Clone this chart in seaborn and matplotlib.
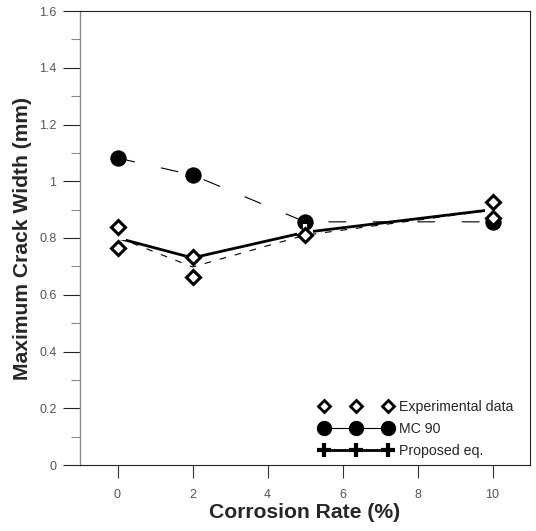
import matplotlib
matplotlib.use("Agg")
import matplotlib.pyplot as plt
from matplotlib.lines import Line2D
import seaborn as sns
import pandas as pd

# ---- data ----
exp_x = [0, 0, 2, 2, 5, 10, 10]
exp_y = [0.84, 0.765, 0.733, 0.663, 0.81, 0.927, 0.87]

mc_x = [0, 2, 5, 10]
mc_y = [1.082, 1.022, 0.857, 0.857]

prop_x = [0, 2, 5, 10]
prop_y = [0.80, 0.73, 0.82, 0.90]

x_ticks = [0, 2, 4, 6, 8, 10]
y_ticks = [0, 0.2, 0.4, 0.6, 0.8, 1.0, 1.2, 1.4, 1.6]
y_tick_labels = ["0", "0.2", "0.4", "0.6", "0.8", "1", "1.2", "1.4", "1.6"]

exp_df = pd.DataFrame({"x": exp_x, "y": exp_y})
mc_df = pd.DataFrame({"x": mc_x, "y": mc_y})
prop_df = pd.DataFrame({"x": prop_x, "y": prop_y})

sns.set_style("white")
plt.rcParams["font.family"] = ["Liberation Sans", "DejaVu Sans"]

fig = plt.figure(figsize=(5.36, 5.31), dpi=100)
ax = fig.add_axes([80 / 536, 1 - 465 / 531, 450 / 536, 454 / 531])

# experimental mean dashed line
sns.lineplot(data=exp_df, x="x", y="y", estimator="mean", errorbar=None, ax=ax,
             color="black", lw=0.8, linestyle=(0, (6, 8)), zorder=2)
# MC 90 dashed line
sns.lineplot(data=mc_df, x="x", y="y", ax=ax, color="black", lw=0.8,
             linestyle=(0, (16, 24)), marker="o", markersize=11,
             markeredgecolor="black", markerfacecolor="black", zorder=3)
# proposed eq.
sns.lineplot(data=prop_df, x="x", y="y", ax=ax, color="black", lw=2.0,
             marker="+", markersize=11, markeredgewidth=3.0, zorder=4)
# experimental points
ax.plot(exp_df["x"], exp_df["y"], linestyle="none", marker="D", markersize=7,
        markerfacecolor="white", markeredgecolor="black", markeredgewidth=2.2, zorder=5)

ax.set_xlim(-1, 11)
ax.set_ylim(0, 1.6)
ax.set_xticks(x_ticks)
ax.set_xticklabels([str(t) for t in x_ticks])
ax.set_yticks(y_ticks)
ax.set_yticklabels(y_tick_labels)
ax.set_yticks([0.1, 0.3, 0.5, 0.7, 0.9, 1.1, 1.3, 1.5], minor=True)

ax.tick_params(axis="y", which="major", direction="out", length=12, width=0.8,
               color="#222222", labelcolor="#555555", labelsize=9, pad=5, left=True)
ax.tick_params(axis="y", which="minor", direction="out", length=6.5, width=0.8,
               color="#888888", left=True)
ax.tick_params(axis="x", which="major", direction="out", length=9.5, width=0.8,
               color="#333333", labelcolor="#555555", labelsize=9, pad=8, bottom=True)

for side in ["top", "right", "bottom"]:
    ax.spines[side].set_color("#222222")
    ax.spines[side].set_linewidth(0.8)
ax.spines["left"].set_color("#888888")
ax.spines["left"].set_linewidth(1.0)

ax.set_xlabel("Corrosion Rate (%)", fontsize=15.2, fontweight="bold", labelpad=1)
ax.set_ylabel("Maximum Crack Width (mm)", fontsize=15.2, fontweight="bold", labelpad=5)

handles = [
    Line2D([], [], linestyle="none", marker="D", markersize=6, markerfacecolor="white",
           markeredgecolor="black", markeredgewidth=2.0),
    Line2D([], [], color="black", lw=0.8, marker="o", markersize=10,
           markerfacecolor="black", markeredgecolor="black"),
    Line2D([], [], color="black", lw=2.0, marker="+", markersize=10, markeredgewidth=3.0),
]
ax.legend(handles, ["Experimental data", "MC 90", "Proposed eq."], loc="lower right",
          frameon=False, numpoints=3, handlelength=5.15, handletextpad=0.45,
          fontsize=10.2, labelspacing=0.55, borderaxespad=0.0,
          bbox_to_anchor=(0.975, 0.003))

fig.savefig("out.png", dpi=100)
